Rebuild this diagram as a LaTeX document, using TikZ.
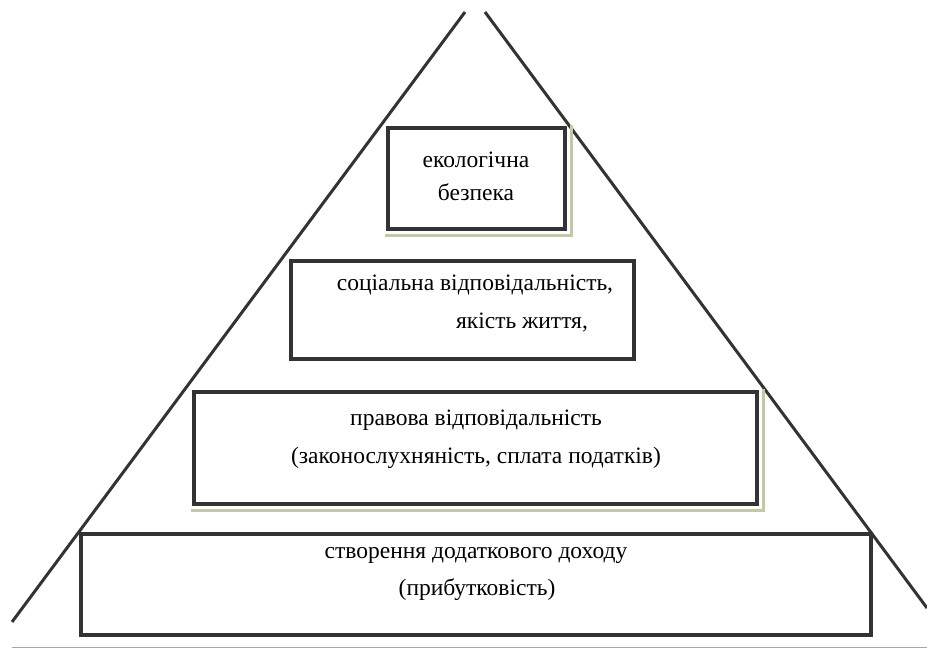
\documentclass[tikz,border=0pt]{standalone}
\usepackage{fontspec}
\setmainfont{Liberation Serif}
\usepackage{tikz}
\usetikzlibrary{positioning}

\definecolor{linecol}{rgb}{0.2,0.2,0.2}
\definecolor{shadecol}{rgb}{0.76,0.79,0.67}

\tikzset{
  level/.style={draw=linecol,line width=4pt,rectangle,inner sep=0pt},
  shade/.style={draw=shadecol,line width=2.5pt},
  side/.style={draw=linecol,line width=3pt},
  lbl/.style={inner sep=0pt,anchor=base,font=\fontsize{23.5}{28}\selectfont},
}

\begin{document}
\begin{tikzpicture}[x=1pt,y=-1pt,line join=miter]
\useasboundingbox (0,0) rectangle (927,648);
%
  \coordinate (topl) at (465,12);
  \coordinate (topr) at (485,12);
  \coordinate (footl) at (12,622);
  \coordinate (footr) at (927,608);
  \draw [side] (topl) -- (footl);
  \draw [side] (topr) -- (footr);
%
  \node (eco) at (476.5,178.5) [level,minimum width=177pt,minimum height=101pt] {};
  \node (soc) at (462.5,310) [level,minimum width=343pt,minimum height=98pt] {};
  \node (law) at (475.5,448) [level,minimum width=563pt,minimum height=112pt] {};
  \node (inc) at (476,584.5) [level,minimum width=790pt,minimum height=101pt] {};
  \draw [shade] ([shift={(4.5,-1)}]eco.north east) -- ([shift={(4.5,4.5)}]eco.south east) -- ([shift={(-1,4.5)}]eco.south west);
  \draw [shade] ([shift={(4.5,-1)}]law.north east) -- ([shift={(4.5,4.5)}]law.south east) -- ([shift={(-1,4.5)}]law.south west);
%
  \node (eco1) at (476,167) [lbl] {екологічна};
  \node (eco2) at (476,200) [lbl] {безпека};
  \node (soc1) at (475,290) [lbl] {соціальна відповідальність,};
  \node (soc2) at (522,328) [lbl] {якість життя,};
  \node (law1) at (476,425) [lbl] {правова відповідальність};
  \node (law2) at (476,463) [lbl] {(законослухняність, сплата податків)};
  \node (inc1) at (476,558) [lbl] {створення додаткового доходу};
  \node (inc2) at (477,595) [lbl] {(прибутковість)};
%
  \coordinate (basel) at (12,647);
  \coordinate (baser) at (927,647);
  \draw [gray!70,line width=1pt] (basel) -- (baser);
%
\end{tikzpicture}
\end{document}
